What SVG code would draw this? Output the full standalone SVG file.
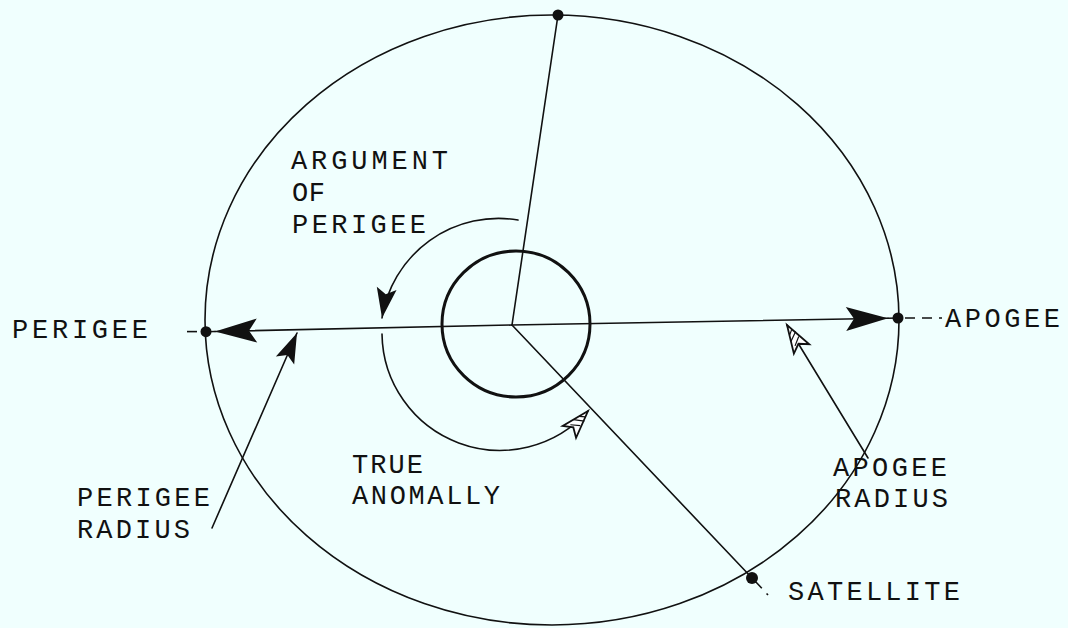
<svg xmlns="http://www.w3.org/2000/svg" width="1068" height="628" viewBox="0 0 1068 628">
<style>
.ln{fill:none;stroke:#111;stroke-width:1.6;stroke-linecap:round}
.thick{fill:none;stroke:#111;stroke-width:3}
.dash{fill:none;stroke:#111;stroke-width:1.6;stroke-dasharray:10 7}
.dot{fill:#111}
text{font-family:"Liberation Mono","Courier New",monospace;font-size:27px;fill:#111}
</style>
<defs>
<marker id="barb" markerUnits="userSpaceOnUse" markerWidth="46" markerHeight="28" refX="44" refY="13" orient="auto" overflow="visible">
<path d="M44,13 L2,1 L10,13 L2,25 Z" fill="#111"/>
</marker>
<marker id="fill" markerUnits="userSpaceOnUse" markerWidth="34" markerHeight="22" refX="32" refY="10" orient="auto" overflow="visible">
<path d="M32,10 L2,0 L8,10 L2,20 Z" fill="#111"/>
</marker>
<marker id="open" markerUnits="userSpaceOnUse" markerWidth="32" markerHeight="22" refX="30" refY="10" orient="auto" overflow="visible">
<path d="M30,10 L2,1 L8,10 L2,19 Z" fill="#fff" stroke="#111" stroke-width="1.8"/>
<path d="M8,6 L14,14 M14,5 L20,14 M20,7 L24,12" stroke="#111" stroke-width="1.2"/>
</marker>
</defs>
<rect width="1068" height="628" fill="#f0fffe"/>
<g id="orbit">
<ellipse class="ln" cx="552" cy="320" rx="347" ry="305"/>
</g>
<g id="earth">
<ellipse class="thick" cx="516" cy="324" rx="74" ry="73"/>
</g>
<g id="connectors">
<path class="ln" d="M512,325 L215,331.5" marker-end="url(#barb)"/>
<path class="ln" d="M215,331.5 L206,331.7"/>
<path class="ln" d="M512,325 L888,318.2" marker-end="url(#barb)"/>
<path class="ln" d="M888,318.2 L898,318"/>
<path class="dash" d="M187,331.6 L203,331.6"/>
<path class="dash" d="M905,318 L942,318"/>
<path class="ln" d="M512,325 L558,15"/>
<path class="ln" d="M512,325 L752,578"/>
<path class="dash" d="M755,581 L768,595"/>
<path class="ln" d="M518,220 A118,118 0 0 0 382,318" marker-end="url(#fill)"/>
<path class="ln" d="M382,334 A118,118 0 0 0 588,411" marker-end="url(#open)"/>
<path class="ln" d="M212,528 L297,333" marker-end="url(#fill)"/>
<path class="ln" d="M868,458 L787,325" marker-end="url(#open)"/>
</g>
<g id="top-point"><circle class="dot" cx="558" cy="15" r="5.5"/></g>
<g id="perigee"><circle class="dot" cx="206" cy="331.7" r="5.5"/><text x="12" y="338" textLength="136" lengthAdjust="spacing">PERIGEE</text></g>
<g id="apogee"><circle class="dot" cx="898" cy="318" r="5.5"/><text x="945" y="327" textLength="115" lengthAdjust="spacing">APOGEE</text></g>
<g id="satellite"><circle class="dot" cx="752" cy="578" r="6"/><text x="788" y="600" textLength="172" lengthAdjust="spacing">SATELLITE</text></g>
<g id="argument-label">
<text x="291" y="169" textLength="157" lengthAdjust="spacing">ARGUMENT</text>
<text x="292" y="201" textLength="33" lengthAdjust="spacing">OF</text>
<text x="292" y="233" textLength="134" lengthAdjust="spacing">PERIGEE</text>
</g>
<g id="true-anomaly-label">
<text x="352" y="473" textLength="71" lengthAdjust="spacing">TRUE</text>
<text x="352" y="504" textLength="148" lengthAdjust="spacing">ANOMALLY</text>
</g>
<g id="perigee-radius-label">
<text x="77" y="506" textLength="133" lengthAdjust="spacing">PERIGEE</text>
<text x="77" y="538" textLength="113" lengthAdjust="spacing">RADIUS</text>
</g>
<g id="apogee-radius-label">
<text x="833" y="476" textLength="114" lengthAdjust="spacing">APOGEE</text>
<text x="835" y="507" textLength="113" lengthAdjust="spacing">RADIUS</text>
</g>
</svg>
